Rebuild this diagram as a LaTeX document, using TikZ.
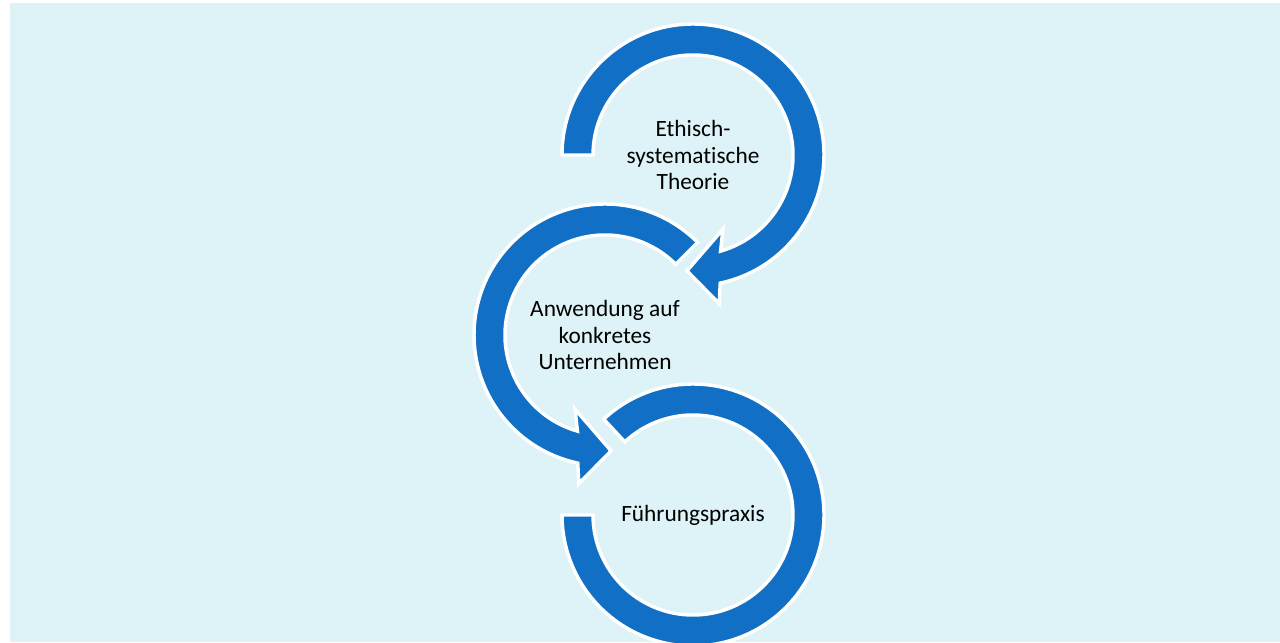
\documentclass[tikz,border=0pt]{standalone}
\usepackage{fontspec}
\setmainfont{Carlito}[Ligatures=NoCommon]
\definecolor{ringblue}{RGB}{17,112,198}
\definecolor{bgcyan}{RGB}{221,243,247}

\begin{document}
\begin{tikzpicture}[x=0.75pt, y=0.75pt,
    ring/.style={fill=ringblue, draw=white, line width=2.6pt, line join=miter},
    lbl/.style={align=center, font=\fontsize{17.5}{20}\selectfont, inner sep=0pt}]
    \useasboundingbox (0,0) rectangle (1280,642);
    \fill[bgcyan] (10,0) rectangle (1280,639);
    \node[lbl] (theorie)   at (693,487) {Ethisch-\\systematische\\Theorie}; %
    \node[lbl] (anwendung) at (605,307) {Anwendung auf\\konkretes\\Unternehmen};
    \node[lbl] (praxis)    at (693,127) {Führungspraxis};
    % ring arrows, drawn round the labels
    \draw[ring, shift={(theorie.center)}] (180:131) arc[start angle=180, end angle=-78, radius=131]
        -- (-80:151) -- (-93:116) -- (-68:80) -- (-74:100)
        arc[start angle=-74, end angle=180, radius=100] -- cycle;
    \draw[ring, shift={(anwendung.center)}] (45:131) arc[start angle=45, end angle=258, radius=131]
        -- (260:151) -- (273:116) -- (248:80) -- (254:100)
        arc[start angle=254, end angle=45, radius=100] -- cycle;
    \draw[ring, shift={(praxis.center)}] (133:131) arc[start angle=133, end angle=-180, radius=131]
        -- (180:100) arc[start angle=-180, end angle=133, radius=100] -- cycle;
\end{tikzpicture}
\end{document}
